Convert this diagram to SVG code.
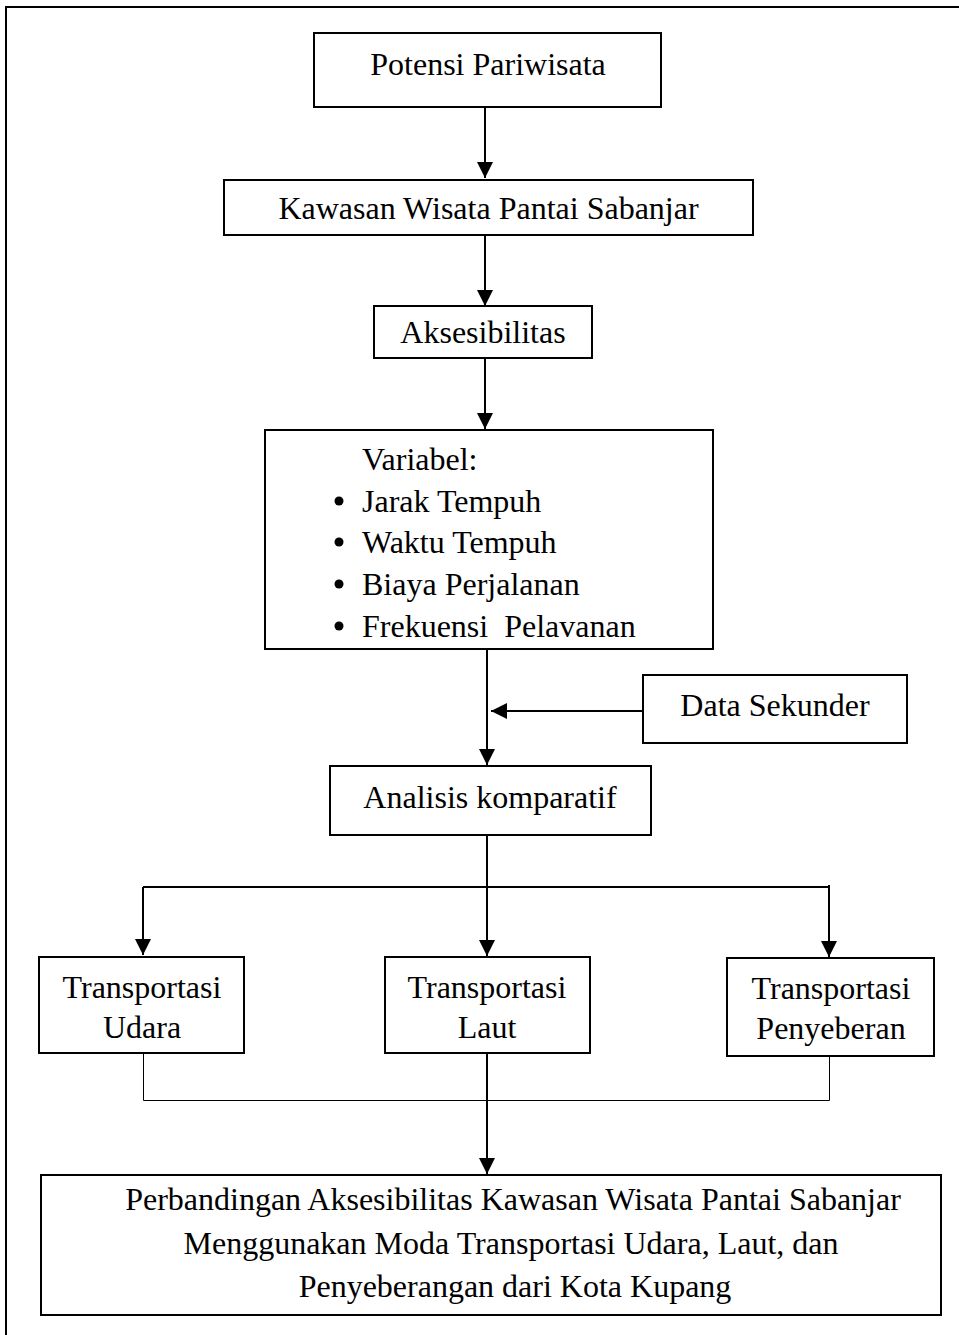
<svg xmlns="http://www.w3.org/2000/svg" width="959" height="1335" viewBox="0 0 959 1335">
<style>
.box{fill:#fff;stroke:#000;stroke-width:2}
.t{font-family:"Liberation Serif","Times New Roman",serif;font-size:32px;fill:#000}
.c{text-anchor:middle}
.ln{fill:none;stroke:#000;stroke-width:2}
.mid{fill:none;stroke:#000;stroke-width:2}
.thin{fill:none;stroke:#000;stroke-width:1}
</style>
<defs>
<marker id="ah" markerUnits="userSpaceOnUse" markerWidth="16" markerHeight="22" viewBox="0 0 16 22" refX="16" refY="8" orient="auto">
<path d="M0,0 L16,8 L0,16 Z" fill="#000"/>
</marker>
</defs>
<rect x="6" y="7" width="1000" height="1400" fill="#fff" stroke="#000" stroke-width="2"/>
<g id="connectors">
<path class="ln" d="M485,107 V178" marker-end="url(#ah)"/>
<path class="ln" d="M485,235 V306" marker-end="url(#ah)"/>
<path class="ln" d="M485,358 V429" marker-end="url(#ah)"/>
<path class="ln" d="M487,648 V765" marker-end="url(#ah)"/>
<path class="ln" d="M643,711 H491" marker-end="url(#ah)"/>
<path class="ln" d="M487,835 V956" marker-end="url(#ah)"/>
<path class="mid" d="M143,887 H829"/>
<path class="ln" d="M143,887 V955" marker-end="url(#ah)"/>
<path class="ln" d="M829,885 V957" marker-end="url(#ah)"/>
<path class="thin" d="M143.5,1053 V1100.5 H829.5 V1056"/>
<path class="ln" d="M487,1053 V1174" marker-end="url(#ah)"/>
</g>
<g id="potensi"><rect class="box" x="314" y="33" width="347" height="74"/><text class="t c" x="488" y="75">Potensi Pariwisata</text></g>
<g id="kawasan"><rect class="box" x="224" y="180" width="529" height="55"/><text class="t c" x="488.5" y="219">Kawasan Wisata Pantai Sabanjar</text></g>
<g id="aksesibilitas"><rect class="box" x="374" y="306" width="218" height="52"/><text class="t c" x="483" y="343">Aksesibilitas</text></g>
<g id="variabel"><rect class="box" x="265" y="430" width="448" height="219"/>
<text class="t" x="362" y="470">Variabel:</text>
<circle cx="339" cy="501" r="4.5"/><text class="t" x="362" y="512">Jarak Tempuh</text>
<circle cx="339" cy="542" r="4.5"/><text class="t" x="362" y="553">Waktu Tempuh</text>
<circle cx="339" cy="584" r="4.5"/><text class="t" x="362" y="595">Biaya Perjalanan</text>
<circle cx="339" cy="626" r="4.5"/><text class="t" x="362" y="637" xml:space="preserve">Frekuensi  Pelavanan</text>
</g>
<g id="data-sekunder"><rect class="box" x="643" y="675" width="264" height="68"/><text class="t c" x="775" y="716">Data Sekunder</text></g>
<g id="analisis"><rect class="box" x="330" y="766" width="321" height="69"/><text class="t c" x="490" y="808">Analisis komparatif</text></g>
<g id="udara"><rect class="box" x="39" y="957" width="205" height="96"/><text class="t c" x="142" y="998">Transportasi</text><text class="t c" x="142" y="1038">Udara</text></g>
<g id="laut"><rect class="box" x="385" y="957" width="205" height="96"/><text class="t c" x="487" y="998">Transportasi</text><text class="t c" x="487" y="1038">Laut</text></g>
<g id="penyeberan"><rect class="box" x="727" y="958" width="207" height="98"/><text class="t c" x="831" y="999">Transportasi</text><text class="t c" x="831" y="1039">Penyeberan</text></g>
<g id="perbandingan"><rect class="box" x="41" y="1175" width="900" height="140"/>
<text class="t c" x="513" y="1210">Perbandingan Aksesibilitas Kawasan Wisata Pantai Sabanjar</text>
<text class="t c" x="511" y="1254">Menggunakan Moda Transportasi Udara, Laut, dan</text>
<text class="t c" x="515" y="1297">Penyeberangan dari Kota Kupang</text>
</g>
</svg>
